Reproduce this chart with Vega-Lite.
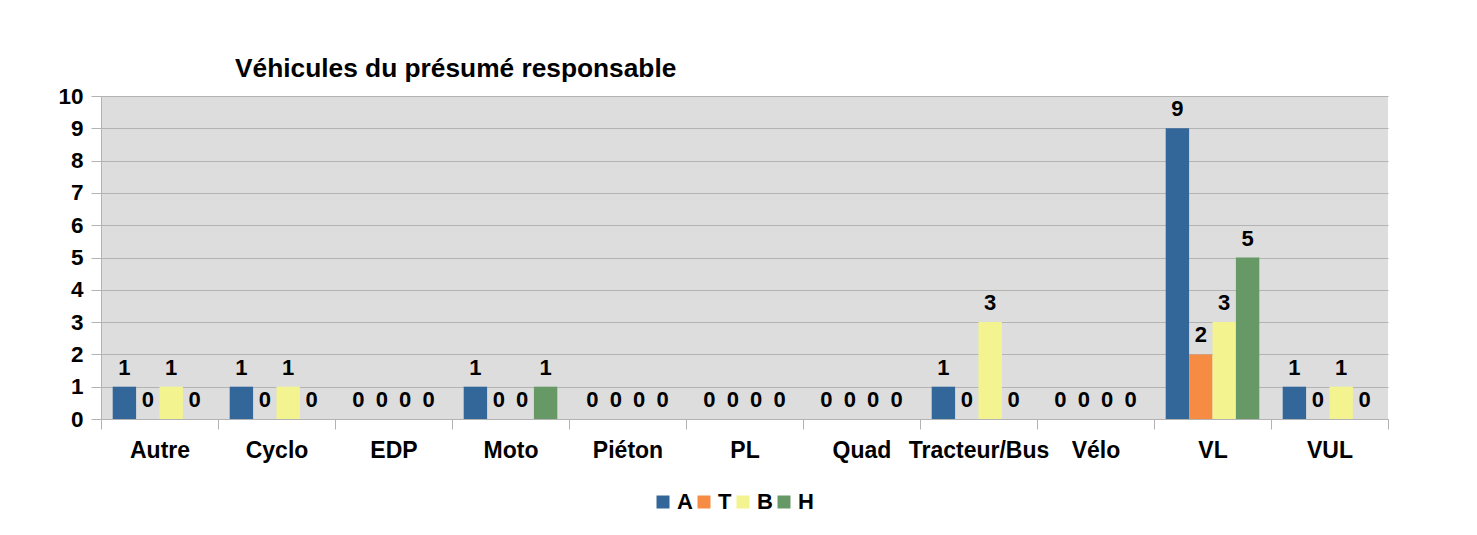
{
  "$schema": "https://vega.github.io/schema/vega-lite/v6.json",
  "width": 1287,
  "height": 323,
  "autosize": {"type": "none"},
  "padding": {"left": 101, "top": 96, "right": 89, "bottom": 116},
  "background": "white",
  "title": {"text": "Véhicules du présumé responsable", "anchor": "start", "frame": "group", "dx": 134, "offset": 3, "fontSize": 26.3, "font": "Liberation Sans", "fontWeight": "bold", "color": "black"},
  "data": {"values": [
    {"cat": "Autre", "serie": "A", "value": 1}, {"cat": "Autre", "serie": "T", "value": 0}, {"cat": "Autre", "serie": "B", "value": 1}, {"cat": "Autre", "serie": "H", "value": 0},
    {"cat": "Cyclo", "serie": "A", "value": 1}, {"cat": "Cyclo", "serie": "T", "value": 0}, {"cat": "Cyclo", "serie": "B", "value": 1}, {"cat": "Cyclo", "serie": "H", "value": 0},
    {"cat": "EDP", "serie": "A", "value": 0}, {"cat": "EDP", "serie": "T", "value": 0}, {"cat": "EDP", "serie": "B", "value": 0}, {"cat": "EDP", "serie": "H", "value": 0},
    {"cat": "Moto", "serie": "A", "value": 1}, {"cat": "Moto", "serie": "T", "value": 0}, {"cat": "Moto", "serie": "B", "value": 0}, {"cat": "Moto", "serie": "H", "value": 1},
    {"cat": "Piéton", "serie": "A", "value": 0}, {"cat": "Piéton", "serie": "T", "value": 0}, {"cat": "Piéton", "serie": "B", "value": 0}, {"cat": "Piéton", "serie": "H", "value": 0},
    {"cat": "PL", "serie": "A", "value": 0}, {"cat": "PL", "serie": "T", "value": 0}, {"cat": "PL", "serie": "B", "value": 0}, {"cat": "PL", "serie": "H", "value": 0},
    {"cat": "Quad", "serie": "A", "value": 0}, {"cat": "Quad", "serie": "T", "value": 0}, {"cat": "Quad", "serie": "B", "value": 0}, {"cat": "Quad", "serie": "H", "value": 0},
    {"cat": "Tracteur/Bus", "serie": "A", "value": 1}, {"cat": "Tracteur/Bus", "serie": "T", "value": 0}, {"cat": "Tracteur/Bus", "serie": "B", "value": 3}, {"cat": "Tracteur/Bus", "serie": "H", "value": 0},
    {"cat": "Vélo", "serie": "A", "value": 0}, {"cat": "Vélo", "serie": "T", "value": 0}, {"cat": "Vélo", "serie": "B", "value": 0}, {"cat": "Vélo", "serie": "H", "value": 0},
    {"cat": "VL", "serie": "A", "value": 9}, {"cat": "VL", "serie": "T", "value": 2}, {"cat": "VL", "serie": "B", "value": 3}, {"cat": "VL", "serie": "H", "value": 5},
    {"cat": "VUL", "serie": "A", "value": 1}, {"cat": "VUL", "serie": "T", "value": 0}, {"cat": "VUL", "serie": "B", "value": 1}, {"cat": "VUL", "serie": "H", "value": 0}
  ]},
  "encoding": {
    "x": {
      "field": "cat", "type": "nominal", "title": null,
      "sort": ["Autre", "Cyclo", "EDP", "Moto", "Piéton", "PL", "Quad", "Tracteur/Bus", "Vélo", "VL", "VUL"],
      "scale": {"paddingInner": 0, "paddingOuter": 0},
      "axis": {"labelAngle": 0, "tickBand": "extent", "ticks": true, "tickSize": 10, "tickColor": "#b3b3b3", "domainColor": "#b3b3b3", "labelFont": "Liberation Sans", "labelFontSize": 23, "labelFontWeight": "bold", "labelColor": "black", "labelPadding": 10, "grid": false}
    },
    "xOffset": {"field": "serie", "type": "nominal", "sort": ["A", "T", "B", "H"], "scale": {"paddingInner": 0, "paddingOuter": 0.5}},
    "y": {
      "field": "value", "type": "quantitative", "title": null,
      "scale": {"domain": [0, 10]},
      "axis": {"values": [0, 1, 2, 3, 4, 5, 6, 7, 8, 9, 10], "grid": true, "gridColor": "#b3b3b3", "tickSize": 10, "tickColor": "#b3b3b3", "domain": true, "domainColor": "#b3b3b3", "labelFont": "Liberation Sans", "labelFontSize": 22.5, "labelFontWeight": "bold", "labelColor": "black", "labelPadding": 8}
    }
  },
  "layer": [
    {
      "mark": {"type": "bar"},
      "encoding": {
        "color": {
          "field": "serie", "type": "nominal",
          "scale": {"domain": ["A", "T", "B", "H"], "range": ["#336699", "#f68b43", "#f3f38f", "#669966"]},
          "legend": {"orient": "none", "legendX": 551, "legendY": 395, "direction": "horizontal", "title": null, "symbolType": "square", "symbolSize": 169, "symbolStrokeWidth": 0, "labelFont": "Liberation Sans", "labelFontSize": 22, "labelFontWeight": "bold", "labelColor": "black", "labelOffset": 3, "columnPadding": 0}
        }
      }
    },
    {
      "mark": {"type": "text", "baseline": "alphabetic", "dy": -12, "fontSize": 22, "fontWeight": "bold", "font": "Liberation Sans", "color": "black"},
      "encoding": {"text": {"field": "value", "type": "quantitative"}}
    }
  ],
  "config": {"view": {"fill": "#dddddd", "stroke": null}}
}
